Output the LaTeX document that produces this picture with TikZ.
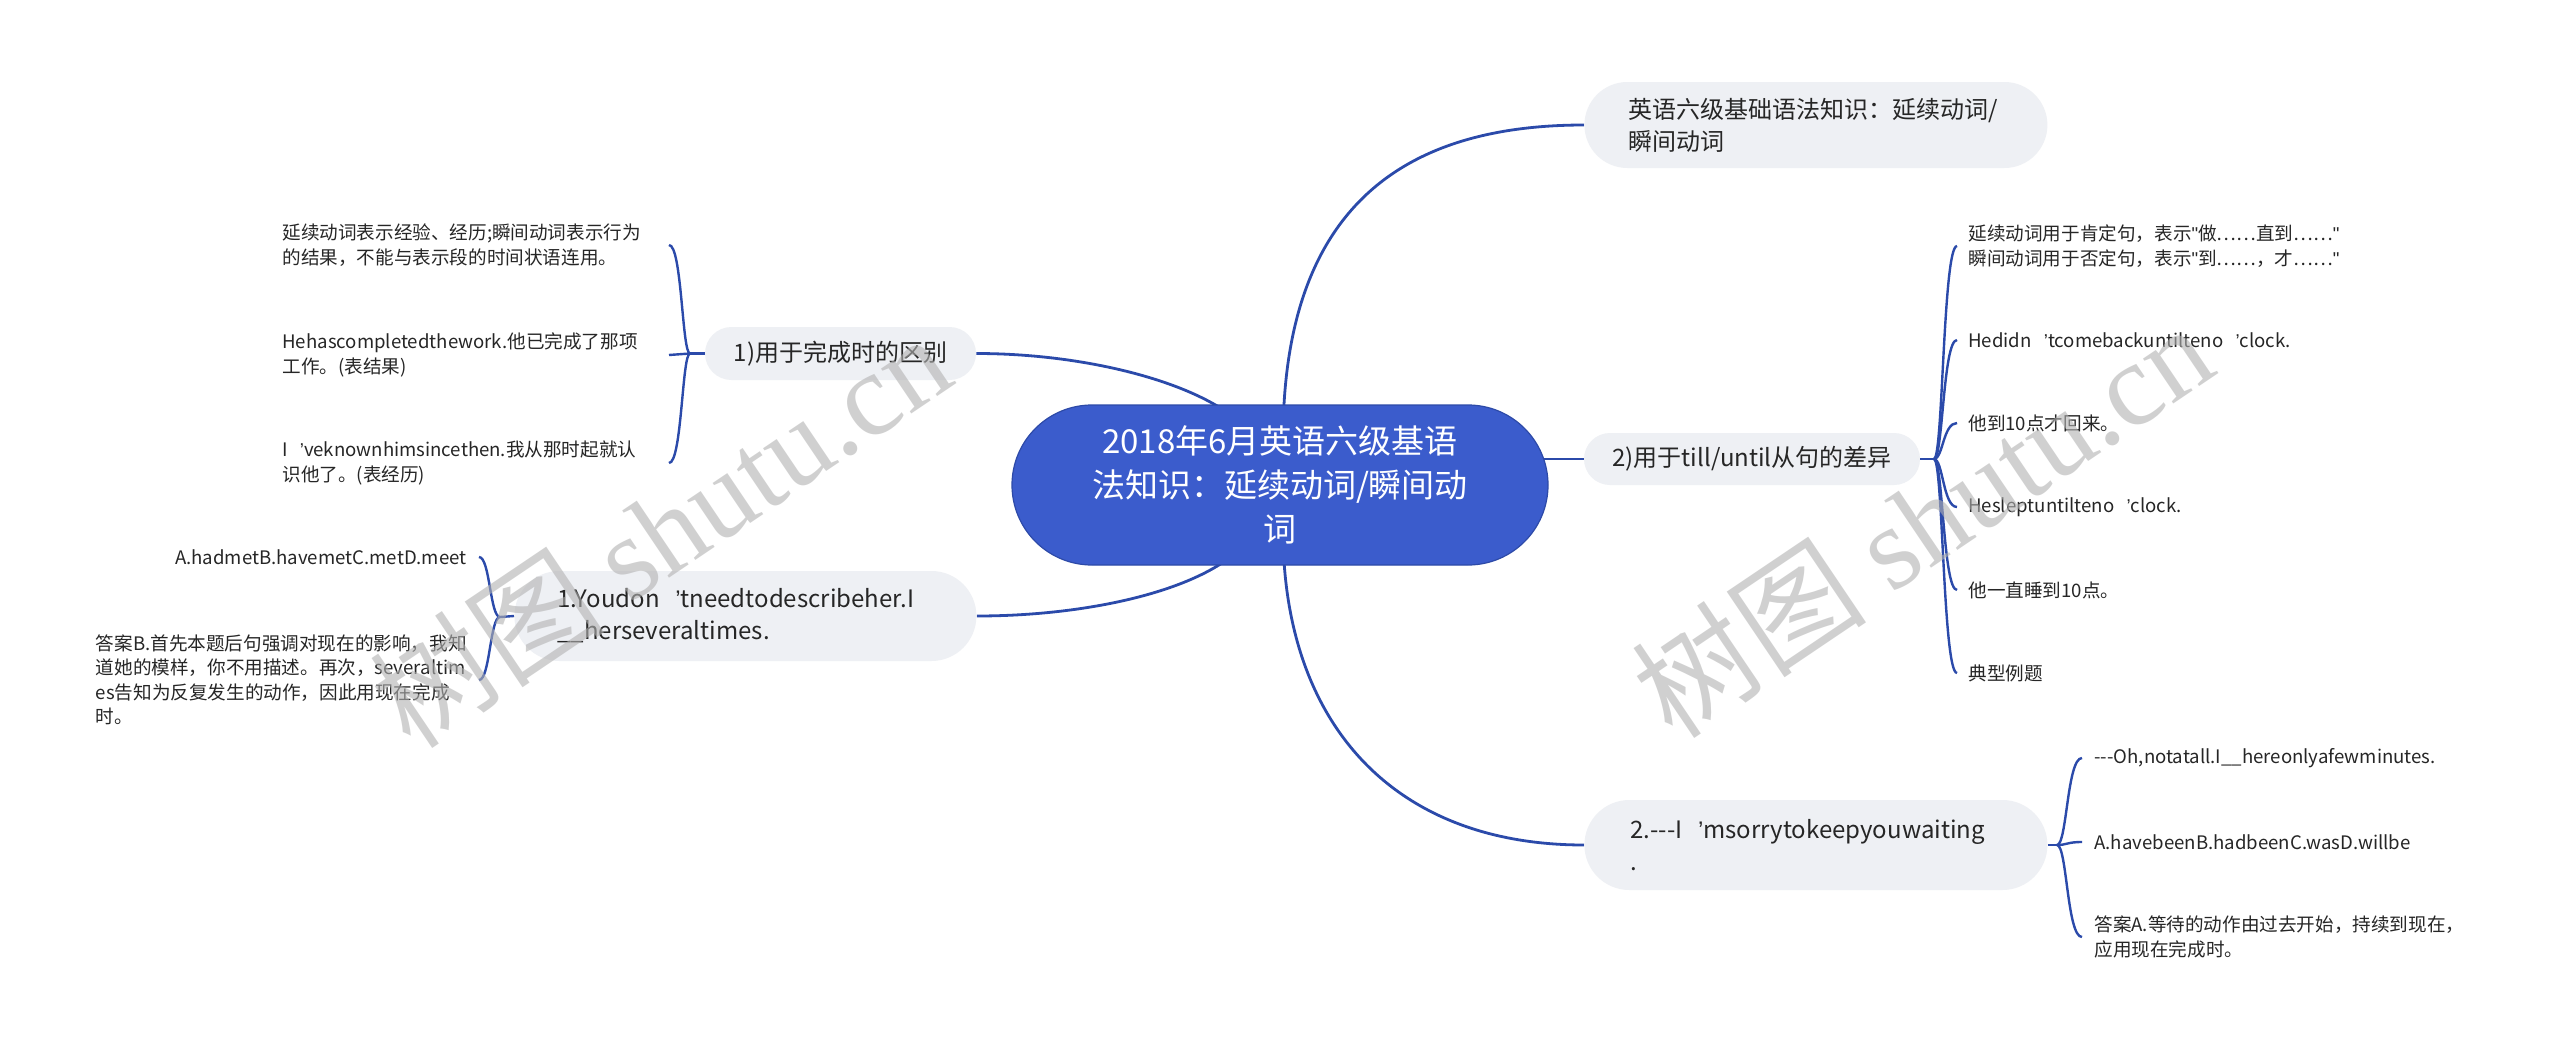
\documentclass[tikz,border=0pt]{standalone}
\usepackage{fontspec}
\setmainfont{Noto Sans CJK SC}
\newfontfamily\wmlatin{Liberation Serif}
\newfontfamily\quotefont{Liberation Sans}
\newcommand\apo{\hspace{0.65em}{\quotefont ’}}
\newcommand\dq{{\quotefont "}}
\usetikzlibrary{backgrounds,calc}
\definecolor{linec}{HTML}{2B4AAA}
\definecolor{rootfill}{HTML}{3B5CCC}
\definecolor{rootdraw}{HTML}{2D4AA8}
\definecolor{boxfill}{HTML}{EEF0F4}
\definecolor{txt}{HTML}{262626}
\tikzset{
  conn/.style={draw=linec, line width=1.4pt},
  leafconn/.style={draw=linec, line width=1.2pt},
  gbox/.style={fill=boxfill, text=txt, font=\fontsize{12}{16}\selectfont},
  leaf/.style={text=txt, font=\fontsize{9.3}{12.25}\selectfont, align=left, inner sep=0pt},
  wmark/.style={rotate=34, text=black!30, text opacity=0.6, font=\fontsize{59}{62}\selectfont, inner sep=0pt},
}
\begin{document}
\begin{tikzpicture}[x=0.5pt, y=-0.5pt]
\useasboundingbox (0,0) rectangle (2560,1049);

% main nodes
\node[fill=rootfill, draw=rootdraw, line width=0.6pt, rounded corners=40pt,
      minimum width=268pt, minimum height=80pt, text=white, align=center,
      font=\fontsize{16.5}{22}\selectfont] (root) at (1280,485)
      {2018年6月英语六级基语\\法知识：延续动词/瞬间动\\词};

\node[gbox, anchor=west, rounded corners=21.5pt, minimum height=43pt,
      text width=187.5pt, inner xsep=22pt, align=left] (n0) at (1584,125)
      {英语六级基础语法知识：延续动词/\\瞬间动词};

\node[gbox, rounded corners=13pt, minimum width=168pt, minimum height=26pt, inner sep=0pt]
      (n2) at (1752,459) {2)用于till/until从句的差异};

\node[gbox, anchor=west, rounded corners=22.5pt, minimum height=45pt,
      text width=185.5pt, inner xsep=23pt, align=left] (n3) at (1584,845)
      {2.-{}-{}-I\apo msorrytokeepyouwaiting\\.};

\node[gbox, rounded corners=13.25pt, minimum width=135.5pt, minimum height=26.5pt, inner sep=0pt]
      (n1) at (840.5,353.5) {1)用于完成时的区别};

\node[gbox, anchor=west, rounded corners=22.5pt, minimum height=45pt,
      text width=188pt, inner xsep=21.5pt, align=left] (n4) at (514,616)
      {1.Youdon\apo tneedtodescribeher.I\\\_\_herseveraltimes.};

% leaves of n1
\node[leaf, anchor=west] (L1a) at (282,245) {延续动词表示经验、经历;瞬间动词表示行为\\的结果，不能与表示段的时间状语连用。};
\node[leaf, anchor=west] (L1b) at (282,355) {Hehascompletedthework.他已完成了那项\\工作。(表结果)};
\node[leaf, anchor=west] (L1c) at (282,463) {I\apo veknownhimsincethen.我从那时起就认\\识他了。(表经历)};

% leaves of n4
\node[leaf, anchor=east] (L2a) at (467,557) {A.hadmetB.havemetC.metD.meet};
\node[leaf, anchor=east] (L2b) at (467,680) {答案B.首先本题后句强调对现在的影响，我知\\道她的模样，你不用描述。再次，severaltim\\es告知为反复发生的动作，因此用现在完成\\时。};

% leaves of n2
\node[leaf, anchor=west] (R1) at (1968,246) {延续动词用于肯定句，表示\dq 做……直到……\dq\\瞬间动词用于否定句，表示\dq 到……，才……\dq};
\node[leaf, anchor=west] (R2) at (1968,340) {Hedidn\apo tcomebackuntilteno\apo clock.};
\node[leaf, anchor=west] (R3) at (1968,423) {他到10点才回来。};
\node[leaf, anchor=west] (R4) at (1968,507) {Hesleptuntilteno\apo clock.};
\node[leaf, anchor=west] (R5) at (1968,590) {他一直睡到10点。};
\node[leaf, anchor=west] (R6) at (1968,673) {典型例题};

% leaves of n3
\node[leaf, anchor=west] (S1) at (2094,758) {-{}-{}-Oh,notatall.I\_\_hereonlyafewminutes.};
\node[leaf, anchor=west] (S2) at (2094,842) {A.havebeenB.hadbeenC.wasD.willbe};
\node[leaf, anchor=west] (S3) at (2094,937) {答案A.等待的动作由过去开始，持续到现在，\\应用现在完成时。};

% hubs and hook lines
\coordinate (h1) at (690,353.5);  \coordinate (k1) at (669,0);
\coordinate (h4) at (500,617);    \coordinate (k4) at (479,0);
\coordinate (h2) at (1934,459);   \coordinate (k2) at (1957,0);
\coordinate (h3) at (2057,845);   \coordinate (k3) at (2082,0);
\coordinate (rTR) at (1283,440);  \coordinate (rBR) at (1283,530);
\coordinate (rTL) at (1255,440);  \coordinate (rBL) at (1255,530);

\begin{pgfonlayer}{background}
\fill[white] (0,0) rectangle (2560,1049);
% root connectors
\draw[conn] (rTR) .. controls (1283,220) and (1390,125) .. (n0.west);
\draw[conn] (rBR) .. controls (1283,720) and (1390,845) .. (n3.west);
\draw[conn] (rTL) .. controls (1225,390) and (1100,353.5) .. (n1.east);
\draw[conn] (rBL) .. controls (1225,585) and (1100,616) .. (n4.east);
\draw[conn] (n2.west -| root.center) -- (n2.west);
\end{pgfonlayer}

% n1 bracket
\draw[leafconn] (n1.west) -- (h1);
\draw[leafconn] (h1) .. controls (682,353.5) and (682,245) .. (L1a -| k1);
\draw[leafconn] (h1) -- (L1b -| k1);
\draw[leafconn] (h1) .. controls (682,353.5) and (682,463) .. (L1c -| k1);

% n4 bracket
\draw[leafconn] (n4.west) -- (h4);
\draw[leafconn] (h4) .. controls (490,617) and (490,557) .. (L2a -| k4);
\draw[leafconn] (h4) .. controls (490,617) and (490,680) .. (L2b -| k4);

% n2 bracket
\draw[leafconn] (n2.east) -- (h2);
\foreach \leafname in {R1,R2,R3,R4,R5,R6}{
  \draw[leafconn] (h2) .. controls ($(h2)+(9,0)$) and ($(h2 |- \leafname)+(9,0)$) .. (\leafname -| k2);
}

% n3 bracket
\draw[leafconn] (n3.east) -- (h3);
\foreach \leafname in {S1,S2,S3}{
  \draw[leafconn] (h3) .. controls ($(h3)+(10,0)$) and ($(h3 |- \leafname)+(10,0)$) .. (\leafname -| k3);
}

% watermarks
\node[wmark] (wm1) at (660,530) {树图 {\wmlatin shutu.cn}};
\node[wmark] (wm2) at (1922,520) {树图 {\wmlatin shutu.cn}};
\end{tikzpicture}
\end{document}
